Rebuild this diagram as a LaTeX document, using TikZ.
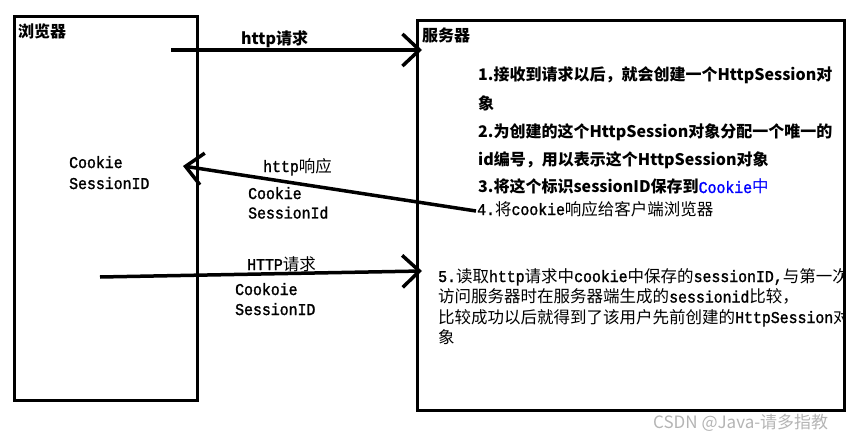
\documentclass[tikz,border=0pt]{standalone}
\usepackage{fontspec}
\usetikzlibrary{arrows.meta}
\frenchspacing
\newfontfamily\cjk{Noto Sans CJK SC}
\newfontfamily\monof{Liberation Mono}[FakeStretch=0.9,FakeBold=1.5]
\newcommand\lat[1]{{\monof #1}}
\definecolor{wmgrey}{RGB}{180,180,180}
\tikzset{
  box/.style={draw, line width=3.2pt, inner sep=0pt, outer sep=0pt, anchor=north west},
  flow/.style={line width=3.5pt, -{Straight Barb[length=17pt,width=32pt]}},
  bt/.style={anchor=base west, inner sep=0pt, font=\fontsize{16}{20}\selectfont\cjk\bfseries},
  st/.style={anchor=base west, inner sep=0pt, font=\fontsize{16.5}{20}\selectfont\cjk},
}
\begin{document}
\begin{tikzpicture}[x=1pt,y=-1pt]
\useasboundingbox (0,0) rectangle (865,441);
% boxes
\node[box, minimum width=183pt, minimum height=384pt] (browser) at (14.5,16.5) {};
\node[box, minimum width=427pt, minimum height=390pt] (server) at (417.6,20.6) {};
% titles
\node[bt] (tb) at (18,37.5) {浏览器};
\node[bt] (ts) at (422,41.5) {服务器};
% arrow 1
\coordinate (a1s) at (171,50);
\coordinate (a1e) at (422,50);
\draw[flow] (a1s) -- (a1e);
\node[bt] (l1) at (241,45) {http请求};
% arrow 2
\coordinate (a2s) at (476,211);
\coordinate (a2e) at (183,166);
\draw[flow] (a2s) -- (a2e);
\node[st] (l2a) at (263,172) {\lat{http}响应};
\node[st] (l2b) at (248,199) {\lat{Cookie}};
\node[st] (l2c) at (248,218.5) {\lat{SessionId}};
% arrow 3
\coordinate (a3s) at (100,277);
\coordinate (a3e) at (422,271);
\draw[flow] (a3s) -- (a3e);
\node[st] (l3a) at (247,270) {\lat{HTTP}请求};
\node[st] (l3b) at (235,295) {\lat{Cookoie}};
\node[st] (l3c) at (235,315) {\lat{SessionID}};
% browser content
\node[st] (bc1) at (69,168) {\lat{Cookie}};
\node[st] (bc2) at (69,189) {\lat{SessionID}};
% server content
\node[bt] (s1) at (478,81) {1.接收到请求以后，就会创建一个HttpSession对};
\node[bt] (s1b) at (478,110) {象};
\node[bt] (s2) at (478,138) {2.为创建的这个HttpSession对象分配一个唯一的};
\node[bt] (s2b) at (478,166) {id编号，用以表示这个HttpSession对象};
\node[bt] (s3) at (478,193) {3.将这个标识sessionID保存到{\color{blue}\fontsize{16.5}{20}\selectfont\mdseries\lat{Cookie}中}};
\node[st] (s4) at (477,215) {\lat{4.}将\lat{cookie}响应给客户端浏览器};
\begin{scope}
\clip (419,22) rectangle (843,409);
\node[st] (s5a) at (438,282) {\lat{5.}读取\lat{http}请求中\lat{cookie}中保存的\lat{sessionID,}与第一次};
\node[st] (s5b) at (438,302.5) {访问服务器时在服务器端生成的\lat{sessionid}比较，};
\node[st] (s5c) at (438,323) {比较成功以后就得到了该用户先前创建的\lat{HttpSession}对象};
\node[st] (s5d) at (438,343.5) {象};
\end{scope}
% watermark
\node[anchor=base west, inner sep=0pt, text=wmgrey, font=\fontsize{17}{20}\selectfont\cjk] (wm) at (653,428) {CSDN @Java-请多指教};
\end{tikzpicture}
\end{document}
